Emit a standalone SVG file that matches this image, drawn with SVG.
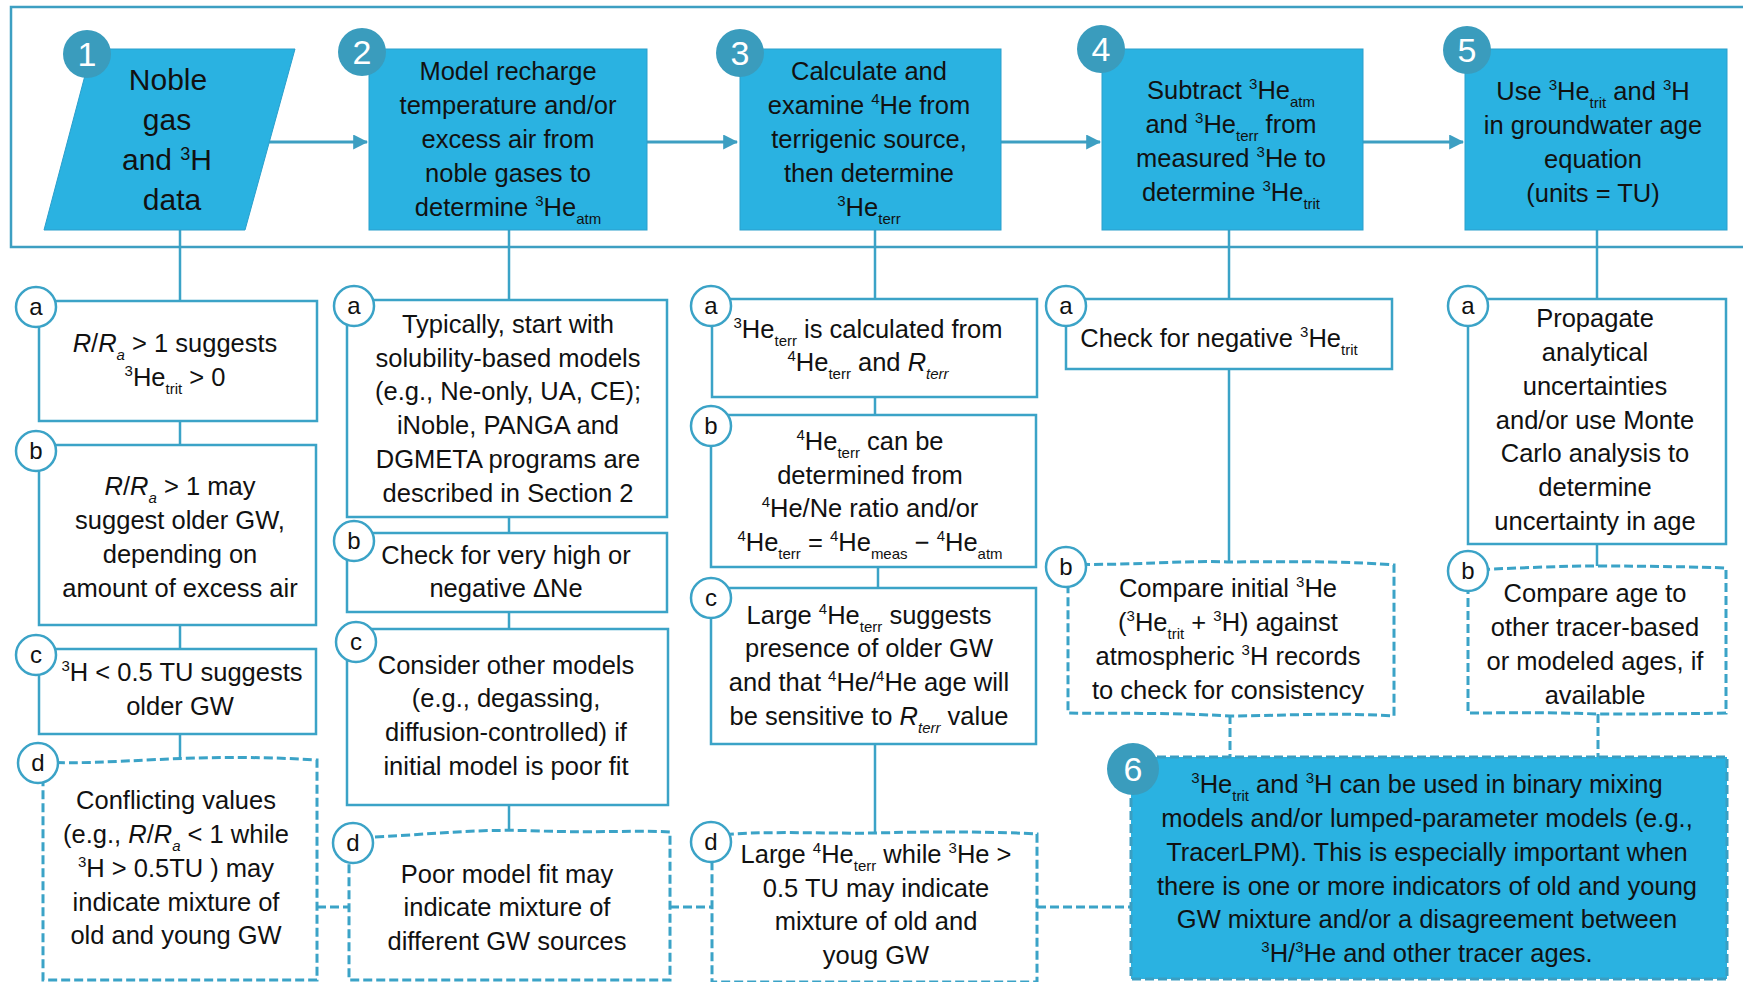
<svg xmlns="http://www.w3.org/2000/svg" width="1743" height="982" viewBox="0 0 1743 982">
<defs>
<marker id="arr" markerWidth="5" markerHeight="5" refX="4.6" refY="2.5" orient="auto" markerUnits="strokeWidth">
<path d="M0,0 L5,2.5 L0,5 Z" fill="#3d9fc2"/>
</marker>
<style>
text{font-family:"Liberation Sans",Arial,sans-serif;fill:#111;text-anchor:middle}
.t{font-size:25.5px}
.big{font-size:30px}
.p{font-size:15px;baseline-shift:10px}
.b{font-size:15px;baseline-shift:-8px}
.i{font-style:italic}
.main{fill:#2ab2e1;stroke:#2a9fcc;stroke-width:1}
.sub{fill:#fff;stroke:#3ba3c7;stroke-width:2.5}
.dsh{fill:#fff;stroke:#3ba3c7;stroke-width:3;stroke-dasharray:9 4}
.num{fill:#3a9cbd}
.numt{font-size:34px;fill:#fff}
.lab{fill:#fff;stroke:#3ba3c7;stroke-width:2.5}
.labt{font-size:24px}
.ln{stroke:#3ba3c7;stroke-width:2.5;fill:none}
.dl{stroke:#3ba3c7;stroke-width:3;fill:none;stroke-dasharray:9 4}
.ar{stroke:#3d9fc2;stroke-width:3;fill:none;marker-end:url(#arr)}
</style>
</defs>
<rect id="frame" x="11" y="7" width="1760" height="240" fill="none" stroke="#3d9fc2" stroke-width="2.5"/>
<g id="connectors">
<line class="ar" x1="269" y1="142" x2="367" y2="142"/>
<line class="ar" x1="647" y1="142" x2="737" y2="142"/>
<line class="ar" x1="1001" y1="142" x2="1100" y2="142"/>
<line class="ar" x1="1363" y1="142" x2="1463" y2="142"/>
<line class="ln" x1="180" y1="230" x2="180" y2="301"/>
<line class="ln" x1="180" y1="421" x2="180" y2="445"/>
<line class="ln" x1="180" y1="625" x2="180" y2="649"/>
<line class="ln" x1="180" y1="734" x2="180" y2="758"/>
<line class="ln" x1="509" y1="230" x2="509" y2="300"/>
<line class="ln" x1="509" y1="517" x2="509" y2="533"/>
<line class="ln" x1="509" y1="612" x2="509" y2="629"/>
<line class="ln" x1="509" y1="805" x2="509" y2="832"/>
<line class="ln" x1="875" y1="230" x2="875" y2="299"/>
<line class="ln" x1="875" y1="397" x2="875" y2="415"/>
<line class="ln" x1="878" y1="567" x2="878" y2="588"/>
<line class="ln" x1="875" y1="744" x2="875" y2="832"/>
<line class="ln" x1="1229" y1="230" x2="1229" y2="299"/>
<line class="ln" x1="1229" y1="369" x2="1229" y2="562"/>
<line class="ln" x1="1597" y1="230" x2="1597" y2="299"/>
<line class="ln" x1="1597" y1="544" x2="1597" y2="567"/>
<line class="dl" x1="1230" y1="715" x2="1230" y2="757"/>
<line class="dl" x1="1598" y1="714" x2="1598" y2="757"/>
<line class="dl" x1="317" y1="907" x2="349" y2="907"/>
<line class="dl" x1="670" y1="907" x2="712" y2="907"/>
<line class="dl" x1="1037" y1="907" x2="1131" y2="907"/>
</g>

<g id="n1">
<polygon class="main" points="92,49 295,49 245,230 44,230"/>
<circle class="num" cx="87" cy="54" r="24"/>
<text class="numt" x="87" y="66">1</text>
<text class="big" x="168" y="90">Noble</text>
<text class="big" x="167" y="130">gas</text>
<text class="big" x="167" y="170">and <tspan class="p" style="font-size:18px">3</tspan>H</text>
<text class="big" x="172" y="210">data</text>
</g>
<g id="n2">
<rect class="main" x="369" y="49" width="278" height="181"/>
<circle class="num" cx="362" cy="52" r="24"/>
<text class="numt" x="362" y="64">2</text>
<text class="t" x="508" y="80">Model recharge</text>
<text class="t" x="508" y="114">temperature and/or</text>
<text class="t" x="508" y="148">excess air from</text>
<text class="t" x="508" y="182">noble gases to</text>
<text class="t" x="508" y="216">determine  <tspan class="p">3</tspan>He<tspan class="b">atm</tspan></text>
</g>
<g id="n3">
<rect class="main" x="740" y="49" width="261" height="181"/>
<circle class="num" cx="740" cy="53" r="24"/>
<text class="numt" x="740" y="65">3</text>
<text class="t" x="869" y="80">Calculate and</text>
<text class="t" x="869" y="114">examine <tspan class="p">4</tspan>He from</text>
<text class="t" x="869" y="148">terrigenic source,</text>
<text class="t" x="869" y="182">then determine</text>
<text class="t" x="869" y="216"><tspan class="p">3</tspan>He<tspan class="b">terr</tspan></text>
</g>
<g id="n4">
<rect class="main" x="1102" y="49" width="261" height="181"/>
<circle class="num" cx="1101" cy="49" r="24"/>
<text class="numt" x="1101" y="61">4</text>
<text class="t" x="1231" y="99">Subtract <tspan class="p">3</tspan>He<tspan class="b">atm</tspan></text>
<text class="t" x="1231" y="133">and <tspan class="p">3</tspan>He<tspan class="b">terr</tspan> from</text>
<text class="t" x="1231" y="167">measured <tspan class="p">3</tspan>He to</text>
<text class="t" x="1231" y="201">determine <tspan class="p">3</tspan>He<tspan class="b">trit</tspan></text>
</g>
<g id="n5">
<rect class="main" x="1465" y="49" width="262" height="181"/>
<circle class="num" cx="1467" cy="50" r="24"/>
<text class="numt" x="1467" y="62">5</text>
<text class="t" x="1593" y="100">Use <tspan class="p">3</tspan>He<tspan class="b">trit</tspan> and <tspan class="p">3</tspan>H</text>
<text class="t" x="1593" y="134">in groundwater age</text>
<text class="t" x="1593" y="168">equation</text>
<text class="t" x="1593" y="202">(units = TU)</text>
</g>

<g id="n1a">
<rect class="sub" x="39" y="301" width="278" height="120"/>
<circle class="lab" cx="36" cy="307" r="20"/><text class="labt" x="36" y="315">a</text>
<text class="t" x="175" y="352"><tspan class="i">R</tspan>/<tspan class="i">R</tspan><tspan class="b i">a</tspan> &gt; 1 suggests</text>
<text class="t" x="175" y="386"><tspan class="p">3</tspan>He<tspan class="b">trit</tspan> &gt; 0</text>
</g>
<g id="n1b">
<rect class="sub" x="39" y="445" width="277" height="180"/>
<circle class="lab" cx="36" cy="451" r="20"/><text class="labt" x="36" y="459">b</text>
<text class="t" x="180" y="495"><tspan class="i">R</tspan>/<tspan class="i">R</tspan><tspan class="b i">a</tspan> &gt; 1 may</text>
<text class="t" x="180" y="529">suggest older GW,</text>
<text class="t" x="180" y="563">depending on</text>
<text class="t" x="180" y="597">amount of excess air</text>
</g>
<g id="n1c">
<rect class="sub" x="39" y="649" width="277" height="85"/>
<circle class="lab" cx="36" cy="655" r="20"/><text class="labt" x="36" y="663">c</text>
<text class="t" x="182" y="681"><tspan class="p">3</tspan>H &lt; 0.5 TU suggests</text>
<text class="t" x="180" y="715">older GW</text>
</g>
<g id="n1d">
<path class="dsh" d="M43,762 C110,766 190,752 317,760 L317,980 L43,980 Z"/>
<circle class="lab" cx="38" cy="763" r="20"/><text class="labt" x="38" y="771">d</text>
<text class="t" x="176" y="809">Conflicting values</text>
<text class="t" x="176" y="843">(e.g., <tspan class="i">R</tspan>/<tspan class="i">R</tspan><tspan class="b i">a</tspan> &lt; 1 while</text>
<text class="t" x="176" y="877"><tspan class="p">3</tspan>H &gt; 0.5TU ) may</text>
<text class="t" x="176" y="911">indicate mixture of</text>
<text class="t" x="176" y="944">old and young GW</text>
</g>

<g id="n2a">
<rect class="sub" x="347" y="300" width="320" height="217"/>
<circle class="lab" cx="354" cy="306" r="20"/><text class="labt" x="354" y="314">a</text>
<text class="t" x="508" y="333">Typically, start with</text>
<text class="t" x="508" y="367">solubility-based models</text>
<text class="t" x="508" y="400">(e.g., Ne-only, UA, CE);</text>
<text class="t" x="508" y="434">iNoble, PANGA and</text>
<text class="t" x="508" y="468">DGMETA programs are</text>
<text class="t" x="508" y="502">described in Section 2</text>
</g>
<g id="n2b">
<rect class="sub" x="347" y="533" width="320" height="79"/>
<circle class="lab" cx="354" cy="541" r="20"/><text class="labt" x="354" y="549">b</text>
<text class="t" x="506" y="564">Check for very high or</text>
<text class="t" x="506" y="597">negative ΔNe</text>
</g>
<g id="n2c">
<rect class="sub" x="347" y="629" width="321" height="176"/>
<circle class="lab" cx="356" cy="642" r="20"/><text class="labt" x="356" y="650">c</text>
<text class="t" x="506" y="674">Consider other models</text>
<text class="t" x="506" y="707">(e.g., degassing,</text>
<text class="t" x="506" y="741">diffusion-controlled) if</text>
<text class="t" x="506" y="775">initial model is poor fit</text>
</g>
<g id="n2d">
<path class="dsh" d="M349,838 C420,836 470,828 540,831 C600,833 640,830 670,832 L670,980 L349,980 Z"/>
<circle class="lab" cx="353" cy="843" r="20"/><text class="labt" x="353" y="851">d</text>
<text class="t" x="507" y="883">Poor model fit may</text>
<text class="t" x="507" y="916">indicate mixture of</text>
<text class="t" x="507" y="950">different GW sources</text>
</g>

<g id="n3a">
<rect class="sub" x="712" y="299" width="325" height="98"/>
<circle class="lab" cx="711" cy="306" r="20"/><text class="labt" x="711" y="314">a</text>
<text class="t" x="868" y="338"><tspan class="p">3</tspan>He<tspan class="b">terr</tspan> is calculated from</text>
<text class="t" x="868" y="371"><tspan class="p">4</tspan>He<tspan class="b">terr</tspan> and <tspan class="i">R</tspan><tspan class="b i">terr</tspan></text>
</g>
<g id="n3b">
<rect class="sub" x="711" y="415" width="325" height="152"/>
<circle class="lab" cx="711" cy="426" r="20"/><text class="labt" x="711" y="434">b</text>
<text class="t" x="870" y="450"><tspan class="p">4</tspan>He<tspan class="b">terr</tspan> can be</text>
<text class="t" x="870" y="484">determined from</text>
<text class="t" x="870" y="517"><tspan class="p">4</tspan>He/Ne ratio and/or</text>
<text class="t" x="870" y="551"><tspan class="p">4</tspan>He<tspan class="b">terr</tspan> = <tspan class="p">4</tspan>He<tspan class="b">meas</tspan> − <tspan class="p">4</tspan>He<tspan class="b">atm</tspan></text>
</g>
<g id="n3c">
<rect class="sub" x="711" y="588" width="325" height="156"/>
<circle class="lab" cx="711" cy="598" r="20"/><text class="labt" x="711" y="606">c</text>
<text class="t" x="869" y="624">Large <tspan class="p">4</tspan>He<tspan class="b">terr</tspan> suggests</text>
<text class="t" x="869" y="657">presence of older GW</text>
<text class="t" x="869" y="691">and that <tspan class="p">4</tspan>He/<tspan class="p">4</tspan>He age will</text>
<text class="t" x="869" y="725">be sensitive to <tspan class="i">R</tspan><tspan class="b i">terr</tspan> value</text>
</g>
<g id="n3d">
<path class="dsh" d="M712,836 C760,830 820,834 875,833 C950,831 1000,832 1037,834 L1037,982 L712,982 Z"/>
<circle class="lab" cx="711" cy="842" r="20"/><text class="labt" x="711" y="850">d</text>
<text class="t" x="876" y="863">Large <tspan class="p">4</tspan>He<tspan class="b">terr</tspan> while <tspan class="p">3</tspan>He &gt;</text>
<text class="t" x="876" y="897">0.5 TU may indicate</text>
<text class="t" x="876" y="930">mixture of old and</text>
<text class="t" x="876" y="964">youg GW</text>
</g>

<g id="n4a">
<rect class="sub" x="1066" y="299" width="326" height="70"/>
<circle class="lab" cx="1066" cy="306" r="20"/><text class="labt" x="1066" y="314">a</text>
<text class="t" x="1219" y="347">Check for negative <tspan class="p">3</tspan>He<tspan class="b">trit</tspan></text>
</g>
<g id="n4b">
<path class="dsh" d="M1068,564 C1130,566 1180,560 1230,562 C1300,561 1360,562 1394,565 L1394,716 C1330,712 1280,716 1230,716 C1160,712 1110,714 1068,713 Z"/>
<circle class="lab" cx="1066" cy="567" r="20"/><text class="labt" x="1066" y="575">b</text>
<text class="t" x="1228" y="597">Compare initial <tspan class="p">3</tspan>He</text>
<text class="t" x="1228" y="631">(<tspan class="p">3</tspan>He<tspan class="b">trit</tspan> + <tspan class="p">3</tspan>H) against</text>
<text class="t" x="1228" y="665">atmospheric <tspan class="p">3</tspan>H records</text>
<text class="t" x="1228" y="699">to check for consistency</text>
</g>

<g id="n5a">
<rect class="sub" x="1468" y="299" width="258" height="245"/>
<circle class="lab" cx="1468" cy="306" r="20"/><text class="labt" x="1468" y="314">a</text>
<text class="t" x="1595" y="327">Propagate</text>
<text class="t" x="1595" y="361">analytical</text>
<text class="t" x="1595" y="395">uncertainties</text>
<text class="t" x="1595" y="429">and/or use Monte</text>
<text class="t" x="1595" y="462">Carlo analysis to</text>
<text class="t" x="1595" y="496">determine</text>
<text class="t" x="1595" y="530">uncertainty in age</text>
</g>
<g id="n5b">
<path class="dsh" d="M1468,570 C1520,568 1560,566 1597,566 C1650,566 1700,567 1726,568 L1726,713 C1680,714 1640,714 1597,714 C1550,712 1500,713 1468,713 Z"/>
<circle class="lab" cx="1468" cy="571" r="20"/><text class="labt" x="1468" y="579">b</text>
<text class="t" x="1595" y="602">Compare age to</text>
<text class="t" x="1595" y="636">other tracer-based</text>
<text class="t" x="1595" y="670">or modeled ages, if</text>
<text class="t" x="1595" y="704">available</text>
</g>

<g id="n6">
<rect x="1131" y="757" width="596" height="222" fill="#2ab2e1" stroke="#3a9ec2" stroke-width="3" stroke-dasharray="9 4"/>
<circle class="num" cx="1133" cy="769" r="26"/>
<text class="numt" x="1133" y="781">6</text>
<text class="t" x="1427" y="793"><tspan class="p">3</tspan>He<tspan class="b">trit</tspan> and <tspan class="p">3</tspan>H can be used in binary mixing</text>
<text class="t" x="1427" y="827">models and/or lumped-parameter models (e.g.,</text>
<text class="t" x="1427" y="861">TracerLPM). This is especially important when</text>
<text class="t" x="1427" y="895">there is one or more indicators of old and young</text>
<text class="t" x="1427" y="928">GW mixture and/or a disagreement between</text>
<text class="t" x="1427" y="962"><tspan class="p">3</tspan>H/<tspan class="p">3</tspan>He and other tracer ages.</text>
</g>
</svg>
